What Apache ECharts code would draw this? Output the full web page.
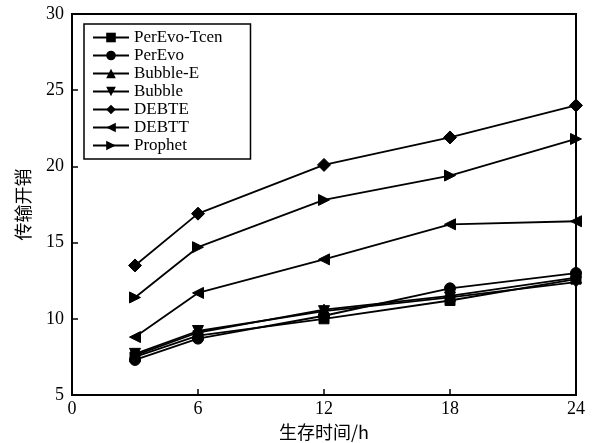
<!DOCTYPE html>
<html><head><meta charset="utf-8">
<script src="https://cdn.jsdelivr.net/npm/echarts@6/dist/echarts.min.js"></script>
<style>html,body{margin:0;padding:0;background:#fff;overflow:hidden}#c{width:592px;height:443px}</style>
</head><body><div id="c"></div>
<script>
const xValues = [3, 6, 12, 18, 24];
const seriesNames = ['PerEvo-Tcen','PerEvo','Bubble-E','Bubble','DEBTE','DEBTT','Prophet'];
const perEvoTcen = [7.5, 8.9, 10.0, 11.2, 12.6];
const perEvo     = [7.3, 8.7, 10.2, 12.0, 13.0];
const bubbleE    = [7.6, 9.1, 10.6, 11.5, 12.7];
const bubble     = [7.7, 9.2, 10.5, 11.4, 12.4];
const debte      = [13.5, 16.9, 20.1, 21.9, 24.0];
const debtt      = [8.8, 11.7, 13.9, 16.2, 16.4];
const prophet    = [11.4, 14.7, 17.8, 19.4, 21.8];
const xTicks = [0, 6, 12, 18, 24];
const yTicks = [5, 10, 15, 20, 25, 30];

const values = [perEvoTcen, perEvo, bubbleE, bubble, debte, debtt, prophet];
const symbols = ['rect','circle','triangle','triangle','diamond','triangle','triangle'];
const rotates = [0, 0, 0, 180, 0, 90, -90];
const sizes = [10, 11, 11, 11, 13, 11, 11];
const serif = '"Liberation Serif","DejaVu Serif",serif';

const chart = echarts.init(document.getElementById('c'));
chart.setOption({
  animation: false,
  backgroundColor: '#fff',
  grid: {left: 72, right: 16, top: 14, bottom: 48, show: true, borderColor: '#000', borderWidth: 2,
         containLabel: false, outerBoundsMode: 'none'},
  legend: {
    data: seriesNames, orient: 'vertical', left: 84, top: 24,
    backgroundColor: '#fff', borderColor: '#000', borderWidth: 1.5,
    padding: [5, 28, 5, 8], itemGap: 1, itemWidth: 36, itemHeight: 12,
    textStyle: {fontFamily: serif, fontSize: 17, lineHeight: 17, color: '#000', padding: [0,0,0,0]}
  },
  xAxis: {
    type: 'value', min: 0, max: 24, interval: 6,
    name: '生存时间/h', nameLocation: 'middle', nameGap: 27,
    nameTextStyle: {fontFamily: '"Noto Sans CJK SC", sans-serif', fontSize: 18, color: '#000'},
    axisLine: {lineStyle: {color: '#000', width: 2}},
    axisTick: {inside: true, length: 6, lineStyle: {color: '#000', width: 1.5}},
    axisLabel: {fontFamily: serif, fontSize: 18, color: '#000', margin: 5,
      formatter: v => xTicks.includes(v) ? String(v) : ''},
    splitLine: {show: false}
  },
  yAxis: {
    type: 'value', min: 5, max: 30, interval: 5,
    name: '传输开销', nameLocation: 'middle', nameGap: 40, nameRotate: 90,
    nameTextStyle: {fontFamily: '"Noto Sans CJK SC", sans-serif', fontSize: 18, color: '#000'},
    axisLine: {lineStyle: {color: '#000', width: 2}},
    axisTick: {inside: true, length: 6, lineStyle: {color: '#000', width: 1.5}},
    axisLabel: {fontFamily: serif, fontSize: 18, color: '#000', margin: 8,
      formatter: v => yTicks.includes(v) ? String(v) : ''},
    splitLine: {show: false}
  },
  series: seriesNames.map((n, i) => ({
    name: n, type: 'line',
    data: xValues.map((x, j) => [x, values[i][j]]),
    symbol: symbols[i], symbolRotate: rotates[i], symbolSize: sizes[i],
    showAllSymbol: true,
    lineStyle: {color: '#000', width: 1.8},
    itemStyle: {color: '#000', borderColor: '#000'},
    emphasis: {disabled: true}
  }))
});
</script></body></html>
